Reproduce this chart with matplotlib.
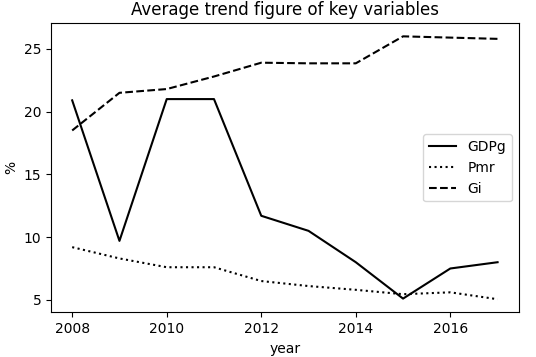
import matplotlib
matplotlib.use("Agg")
import matplotlib.pyplot as plt

years = [2008, 2009, 2010, 2011, 2012, 2013, 2014, 2015, 2016, 2017]
gdpg = [20.9, 9.7, 21.0, 21.0, 11.7, 10.5, 8.0, 5.1, 7.5, 8.0]
pmr = [9.2, 8.3, 7.6, 7.6, 6.5, 6.1, 5.8, 5.45, 5.6, 5.05]
gi = [18.5, 21.5, 21.8, 22.8, 23.9, 23.85, 23.85, 26.0, 25.9, 25.8]

fig, ax = plt.subplots(figsize=(5.36, 3.57), dpi=100)
fig.subplots_adjust(left=0.095, right=0.968, top=0.935, bottom=0.125)

ax.plot(years, gdpg, color="black", linestyle="-", label="GDPg")
ax.plot(years, pmr, color="black", linestyle=":", label="Pmr")
ax.plot(years, gi, color="black", linestyle="--", label="Gi")

ax.set_title("Average trend figure of key variables")
ax.set_xlabel("year")
ax.set_ylabel("%")
ax.legend(loc="center right")

fig.savefig("out.png")
